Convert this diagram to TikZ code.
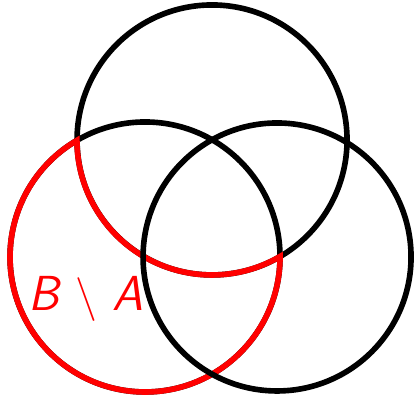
\documentclass[tikz,border=0pt]{standalone}
\usepackage{amsmath,amssymb}
\usepackage{tikz}

\begin{document}
\begin{tikzpicture}[scale=0.02, line width=3.2pt]
    \useasboundingbox (0,0) rectangle (414,397);
    \coordinate (A) at (212,257);
    \coordinate (B) at (145,140);
    \coordinate (C) at (277,140);
    \draw (A) circle (135);
    \draw (B) circle (135);
    % boundary of B minus A
    \draw[red] (B) ++(120.3:135) arc[start angle=120.3, end angle=360.2, radius=135]
        arc[start angle=300.3, end angle=180.2, radius=135] -- cycle;
    \draw (C) circle (134);
    \node[red, font=\fontsize{28}{34}\selectfont\sffamily\itshape] (lbl) at (86,98) {B $\setminus$ A};
  \end{tikzpicture}
\end{document}
